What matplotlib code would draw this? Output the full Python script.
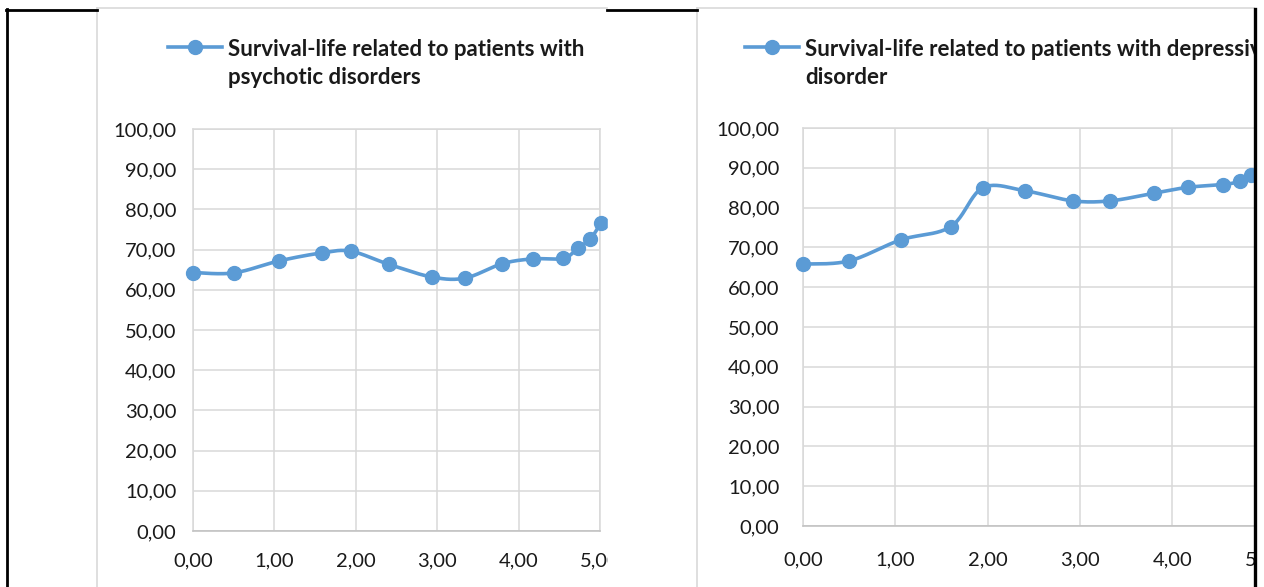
import matplotlib
matplotlib.use("Agg")
import matplotlib.pyplot as plt
import numpy as np
from matplotlib.patches import Rectangle

# survival curves (x = years, y = % surviving)
years_psy = [0.00, 0.50, 1.06, 1.59, 1.94, 2.41, 2.93, 3.34, 3.80, 4.18, 4.55, 4.73, 4.88, 5.01]
surv_psy = [64.3, 64.2, 67.2, 69.2, 69.6, 66.3, 63.2, 62.9, 66.5, 67.7, 67.8, 70.4, 72.6, 76.6]
years_dep = [0.00, 0.50, 1.06, 1.60, 1.95, 2.41, 2.92, 3.33, 3.80, 4.17, 4.55, 4.73, 4.85]
surv_dep = [65.8, 66.6, 71.9, 75.2, 85.0, 84.2, 81.7, 81.7, 83.6, 85.1, 85.8, 86.6, 88.3]
label_psy = "Survival-life related to patients with\npsychotic disorders"
label_dep = "Survival-life related to patients with depressive\ndisorder"
xticks = [0, 1, 2, 3, 4, 5]
yticks = [0, 10, 20, 30, 40, 50, 60, 70, 80, 90, 100]

BLUE = "#5B9BD5"
GRID = "#D9D9D9"
TXT = "#1a1a1a"
FONT = "Lato"

W, H = 1264, 587
fig = plt.figure(figsize=(W / 100, H / 100), dpi=100)


def smooth(x, y, n=24):
    # Excel-style smoothed line: cubic bezier between points
    p = np.column_stack([x, y]).astype(float)
    p = np.vstack([p[0], p, p[-1]])
    out = []
    for i in range(1, len(p) - 2):
        p0, p1, p2, p3 = p[i - 1], p[i], p[i + 1], p[i + 2]
        c1 = p1 + (p2 - p0) / 6
        c2 = p2 - (p3 - p1) / 6
        t = np.linspace(0, 1, n)[:, None]
        seg = (1 - t) ** 3 * p1 + 3 * (1 - t) ** 2 * t * c1 + 3 * (1 - t) * t ** 2 * c2 + t ** 3 * p2
        out.append(seg)
    out = np.vstack(out)
    return out[:, 0], out[:, 1]


def px_axes(left, right, top, bottom):
    return fig.add_axes([left / W, 1 - bottom / H, (right - left) / W, (bottom - top) / H])


def draw(ax, x, y, ypad, xpad):
    sx, sy = smooth(x, y)
    ax.plot(sx, sy, color=BLUE, lw=2.6, solid_capstyle="round", clip_on=False, zorder=3)
    ax.plot(x, y, "o", color=BLUE, ms=10, clip_on=False, zorder=4)
    ax.set_xlim(0, 5)
    ax.set_ylim(0, 100)
    ax.set_xticks(xticks)
    ax.set_yticks(yticks)
    ax.set_xticklabels([f"{v:.2f}".replace(".", ",") for v in xticks])
    ax.set_yticklabels([f"{v:.2f}".replace(".", ",") for v in yticks])
    ax.grid(True, color=GRID, lw=1.1)
    ax.set_axisbelow(True)
    for s in ax.spines.values():
        s.set_color(GRID)
        s.set_linewidth(1.1)
    ax.spines["bottom"].set_color("#BFBFBF")
    ax.tick_params(length=0, labelsize=14.5, labelcolor=TXT)
    ax.tick_params(axis="y", pad=ypad)
    ax.tick_params(axis="x", pad=xpad)
    for lab in ax.get_xticklabels() + ax.get_yticklabels():
        lab.set_fontfamily(FONT)


ax1 = px_axes(193, 600, 129, 531)
draw(ax1, years_psy, surv_psy, 12, 15.5)

ax2 = px_axes(803, 803 + 5 * 92.3, 128, 526)
draw(ax2, years_dep, surv_dep, 17, 18.5)

# overlay in pixel coordinates: page table borders, chart frames, legends
ov = fig.add_axes([0, 0, 1, 1], zorder=10)
ov.set_xlim(0, W)
ov.set_ylim(H, 0)
ov.axis("off")
ov.patch.set_alpha(0)

ov.add_patch(Rectangle((607.5, 0), 697 - 607.5, H, color="white", zorder=1))

for x0, x1 in [(97, 607), (697, 1254)]:
    ov.plot([x0, x0], [8, H], color=GRID, lw=1.2, zorder=2)
    ov.plot([x0, x1], [8, 8], color=GRID, lw=1.2, zorder=2)

for x0, label in [(168, label_psy), (745, label_dep)]:
    ov.plot([x0, x0 + 54], [47, 47], color=BLUE, lw=2.6, zorder=2)
    ov.plot([x0 + 27], [47], "o", color=BLUE, ms=10, zorder=2)
    ov.text(x0 + 60, 38.5, label, fontsize=16, fontweight="bold", family=FONT,
            color=TXT, va="top", ha="left", linespacing=1.45, zorder=2)

# cover overflow past right table border
ov.add_patch(Rectangle((1256, 0), W - 1256, H, color="white", zorder=5))

ov.plot([7, 7], [9, H], color="black", lw=2, zorder=6)
ov.plot([6, 97], [9.5, 9.5], color="black", lw=2, zorder=6)
ov.plot([607, 697], [9.5, 9.5], color="black", lw=2, zorder=6)
ov.plot([1254.5, 1254.5], [9, H], color="black", lw=2.4, zorder=6)

plt.savefig("out.png", dpi=100)
